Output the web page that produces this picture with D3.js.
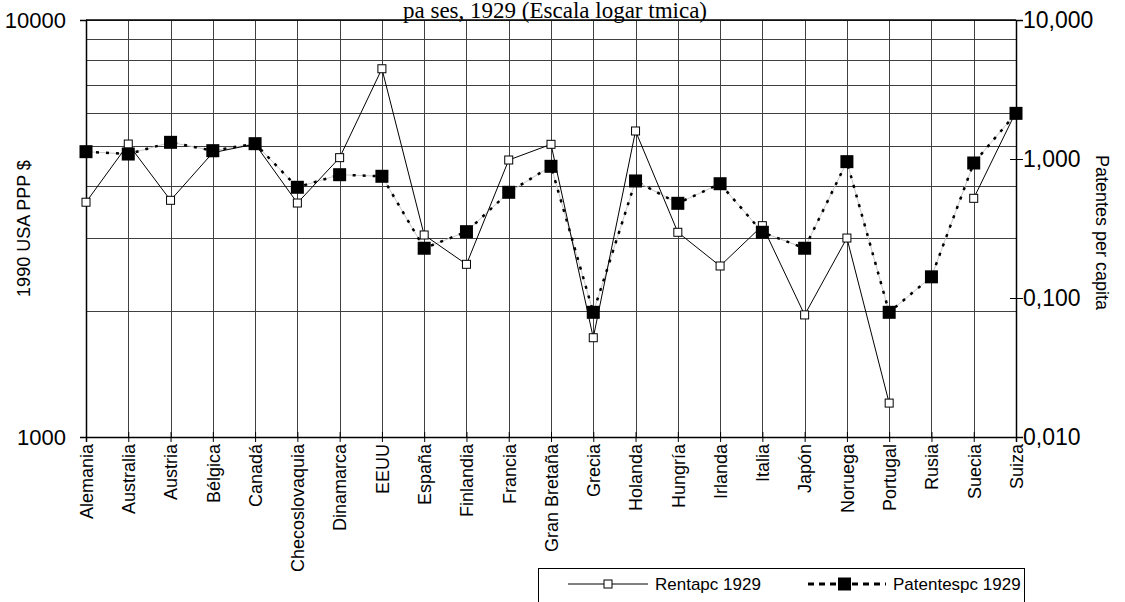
<!DOCTYPE html>
<html><head><meta charset="utf-8">
<script src="https://cdn.jsdelivr.net/npm/d3@7"></script>
<style>body{margin:0;background:#fff}svg{display:block}</style>
</head><body><svg id="c" width="1125" height="602"></svg>
<script>
const categories = ["Alemania","Australia","Austria","Bélgica","Canadá","Checoslovaquia","Dinamarca","EEUU","España","Finlandia","Francia","Gran Bretaña","Grecia","Holanda","Hungría","Irlanda","Italia","Japón","Noruega","Portugal","Rusia","Suecia","Suiza"];
const renta = [3656,5041,3695,4807,5041,3640,4676,7640,3051,2595,4616,5034,1730,5418,3097,2571,3212,1962,3000,1206,null,3736,6026];
const patentes = [1.129,1.086,1.318,1.148,1.289,0.626,0.771,0.751,0.228,0.300,0.576,0.886,0.0789,0.695,0.480,0.664,0.297,0.228,0.957,0.0789,0.142,0.936,2.13];
const leftTicks = [1000,10000];
const leftTickLabels = ["1000","10000"];
const leftGrid = [1000,2000,3000,4000,5000,6000,7000,8000,9000,10000];
const rightTicks = [0.01,0.1,1,10];
const rightTickLabels = ["0,010","0,100","1,000","10,000"];
const seriesNames = ["Rentapc 1929","Patentespc 1929"];
const titleLine = "pa ses, 1929 (Escala logar tmica)";
const leftTitle = "1990 USA PPP $";
const rightTitle = "Patentes per capita";

const svg = d3.select("#c");
const L = 86, R = 1016, T = 20, B = 437;
const font = "Arial, 'Liberation Sans', sans-serif";
const x = d3.scalePoint().domain(categories).range([L, R]);
const yL = d3.scaleLog().domain([1000, 10000]).range([B, T]);
const yR = d3.scaleLog().domain([0.01, 10]).range([B, T]);

// title
svg.append("text").attr("x", 555).attr("y", 18).attr("text-anchor", "middle")
  .attr("font-family", "'Liberation Serif', 'Times New Roman', serif").attr("font-size", 23)
  .text(titleLine);

// grid
const g = svg.append("g").attr("shape-rendering", "crispEdges");
g.selectAll("line.h").data(leftGrid).enter().append("line")
  .attr("x1", L).attr("x2", R).attr("y1", d => Math.round(yL(d)) + 0.5).attr("y2", d => Math.round(yL(d)) + 0.5)
  .attr("stroke", "#404040").attr("stroke-width", 1);
g.selectAll("line.v").data(categories).enter().append("line")
  .attr("x1", d => Math.round(x(d)) + 0.5).attr("x2", d => Math.round(x(d)) + 0.5).attr("y1", T).attr("y2", B)
  .attr("stroke", "#404040").attr("stroke-width", 1);

// axes
const axL = svg.append("g").attr("transform", `translate(${L},0)`)
  .call(d3.axisLeft(yL).tickValues(leftTicks).tickSize(6).tickFormat((d, i) => leftTickLabels[i]));
const axR = svg.append("g").attr("transform", `translate(${R},0)`)
  .call(d3.axisRight(yR).tickValues(rightTicks).tickSize(7).tickFormat((d, i) => rightTickLabels[i]));
axR.selectAll(".tick line").attr("x1", -6);
const axB = svg.append("g").attr("transform", `translate(0,${B})`)
  .call(d3.axisBottom(x).tickSize(5));
axB.selectAll(".tick line").attr("y1", -5);
[axL, axR, axB].forEach(a => {
  a.select(".domain").attr("stroke", "#000").attr("stroke-width", 1.5);
  a.selectAll(".tick line").attr("stroke", "#000");
  a.selectAll("text").attr("font-family", font).attr("fill", "#000");
});
axL.selectAll("text").attr("font-size", 22).attr("x", -20);
axR.selectAll("text").attr("font-size", 23).attr("x", 7);
axB.selectAll("text").attr("font-size", 18)
  .attr("transform", "rotate(-90)").attr("text-anchor", "end")
  .attr("x", -7).attr("y", 0).attr("dy", "0.35em");
// top border
svg.append("line").attr("x1", L).attr("x2", R).attr("y1", T).attr("y2", T).attr("stroke", "#000").attr("stroke-width", 1.5);

// axis titles
svg.append("text").attr("transform", `translate(30,${(T + B) / 2}) rotate(-90)`)
  .attr("text-anchor", "middle").attr("font-family", font).attr("font-size", 18).text(leftTitle);
svg.append("text").attr("transform", `translate(1096,${(T + B) / 2 + 4}) rotate(90)`)
  .attr("text-anchor", "middle").attr("font-family", font).attr("font-size", 18).text(rightTitle);

// Patentes series
const pData = categories.map((c, i) => ({c, v: patentes[i]}));
const lineP = d3.line().x(d => x(d.c)).y(d => yR(d.v));
svg.append("path").datum(pData).attr("d", lineP).attr("fill", "none").attr("stroke", "#c8c8c8").attr("stroke-width", 1);
svg.append("path").datum(pData).attr("d", lineP).attr("fill", "none").attr("stroke", "#000")
  .attr("stroke-width", 2.5).attr("stroke-dasharray", "3,7");

// Renta series
const rData = categories.map((c, i) => ({c, v: renta[i]}));
const lineR = d3.line().defined(d => d.v != null).x(d => x(d.c)).y(d => yL(d.v));
svg.append("path").datum(rData).attr("d", lineR).attr("fill", "none").attr("stroke", "#000").attr("stroke-width", 1);
svg.selectAll("rect.r").data(rData.filter(d => d.v != null)).enter().append("rect")
  .attr("x", d => x(d.c) - 4).attr("y", d => yL(d.v) - 4).attr("width", 8).attr("height", 8)
  .attr("fill", "#fff").attr("stroke", "#000").attr("stroke-width", 1);
svg.selectAll("rect.p").data(pData).enter().append("rect")
  .attr("x", d => x(d.c) - 6.5).attr("y", d => yR(d.v) - 6.5).attr("width", 13).attr("height", 13)
  .attr("fill", "#000");

// legend
const lg = svg.append("g");
lg.append("rect").attr("x", 538.5).attr("y", 568.5).attr("width", 486).attr("height", 60)
  .attr("fill", "#fff").attr("stroke", "#000").attr("stroke-width", 1);
const ly = 584;
lg.append("line").attr("x1", 568).attr("x2", 648).attr("y1", ly).attr("y2", ly).attr("stroke", "#000");
lg.append("rect").attr("x", 604).attr("y", ly - 4).attr("width", 8).attr("height", 8).attr("fill", "#fff").attr("stroke", "#000");
lg.append("text").attr("x", 655).attr("y", ly + 6).attr("font-family", font).attr("font-size", 17).text(seriesNames[0]);
lg.append("line").attr("x1", 808).attr("x2", 886).attr("y1", ly).attr("y2", ly).attr("stroke", "#000")
  .attr("stroke-width", 3).attr("stroke-dasharray", "6,5");
lg.append("rect").attr("x", 838).attr("y", ly - 6.5).attr("width", 13).attr("height", 13).attr("fill", "#000");
lg.append("text").attr("x", 893).attr("y", ly + 6).attr("font-family", font).attr("font-size", 17).text(seriesNames[1]);
</script></body></html>
